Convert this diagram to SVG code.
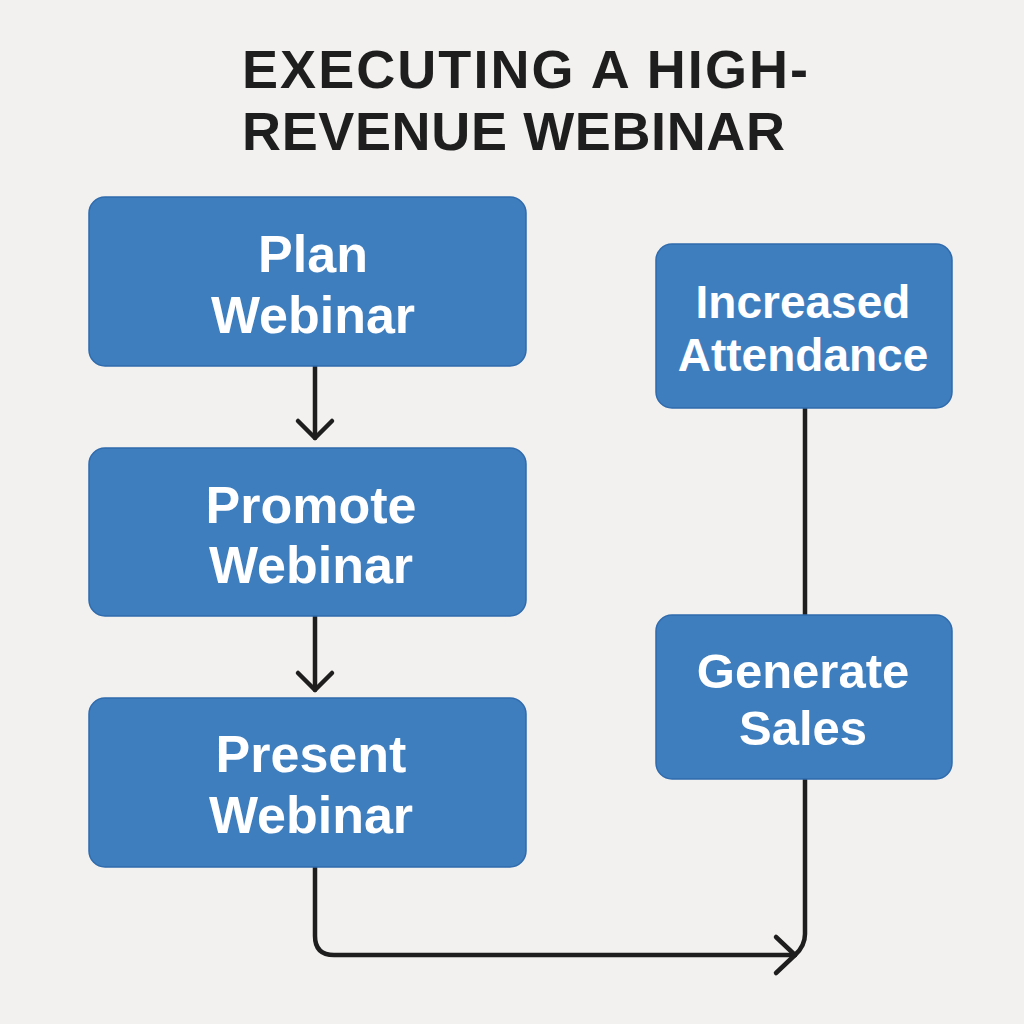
<svg xmlns="http://www.w3.org/2000/svg" width="1024" height="1024" viewBox="0 0 1024 1024">
<style>
.box{fill:#3E7EBF;stroke:#2F6BAD;stroke-width:1.5}
.lbl{font-family:"Liberation Sans",Arial,sans-serif;font-weight:bold;fill:#FFFFFF;text-anchor:middle}
.ttl{font-family:"Liberation Sans",Arial,sans-serif;font-weight:bold;fill:#1E1E1E;font-size:54px}
.con{fill:none;stroke:#1E1E1E;stroke-width:4.5;stroke-linecap:round;stroke-linejoin:round}
</style>
<rect width="1024" height="1024" fill="#F2F1EF"/>
<g id="title">
<text class="ttl" x="242" y="88" textLength="566" lengthAdjust="spacing">EXECUTING A HIGH-</text>
<text class="ttl" x="242" y="150" textLength="543" lengthAdjust="spacing">REVENUE WEBINAR</text>
</g>
<g id="connectors">
<path class="con" d="M315,366 V438"/>
<path class="con" d="M298,421 L315,438 L332,421"/>
<path class="con" d="M315,616 V690"/>
<path class="con" d="M298,673 L315,690 L332,673"/>
<path class="con" d="M805,408 V615"/>
<path class="con" d="M315,867 V936 Q315,955 334,955 H795"/>
<path class="con" d="M805,779 V934 Q805,946 795,955"/>
<path class="con" d="M776,937 L795,955 L776,973"/>
</g>
<g id="plan">
<rect class="box" x="89" y="197" width="437" height="169" rx="16"/>
<text class="lbl" x="313" y="272" font-size="52">Plan</text>
<text class="lbl" x="313" y="333" font-size="52">Webinar</text>
</g>
<g id="promote">
<rect class="box" x="89" y="448" width="437" height="168" rx="16"/>
<text class="lbl" x="311" y="523" font-size="52">Promote</text>
<text class="lbl" x="311" y="583" font-size="52">Webinar</text>
</g>
<g id="present">
<rect class="box" x="89" y="698" width="437" height="169" rx="16"/>
<text class="lbl" x="311" y="772" font-size="52">Present</text>
<text class="lbl" x="311" y="833" font-size="52">Webinar</text>
</g>
<g id="attendance">
<rect class="box" x="656" y="244" width="296" height="164" rx="16"/>
<text class="lbl" x="803" y="318" font-size="46">Increased</text>
<text class="lbl" x="803" y="371" font-size="46">Attendance</text>
</g>
<g id="sales">
<rect class="box" x="656" y="615" width="296" height="164" rx="16"/>
<text class="lbl" x="803" y="688" font-size="49">Generate</text>
<text class="lbl" x="803" y="745" font-size="49">Sales</text>
</g>
</svg>
